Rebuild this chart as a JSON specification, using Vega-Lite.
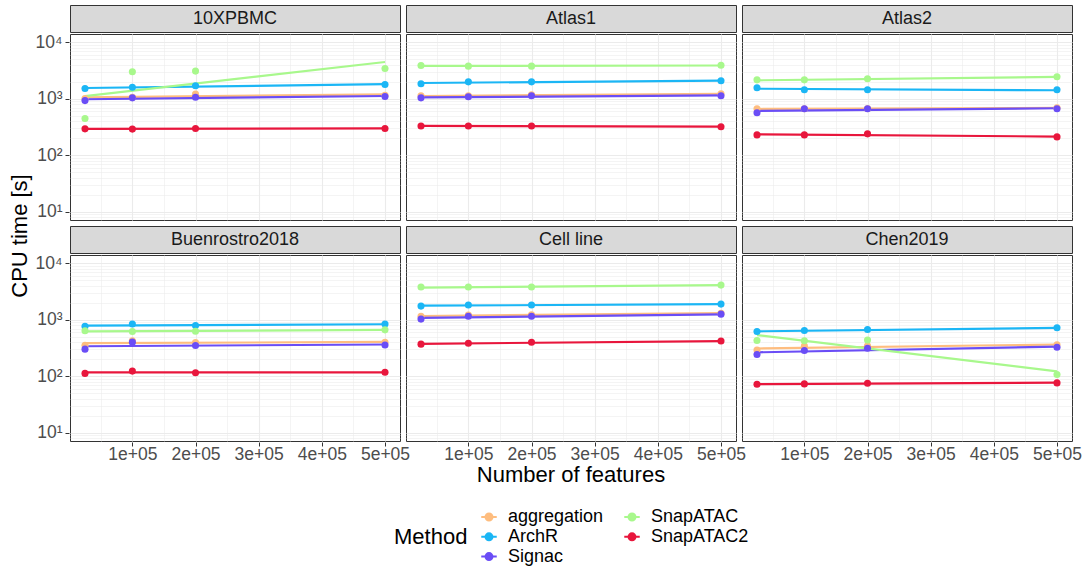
{
  "$schema": "https://vega.github.io/schema/vega-lite/v6.json",
  "background": "white",
  "padding": {"left": 5, "top": 4, "right": 5, "bottom": 5},
  "data": {"name": "all"},
  "datasets": {
    "all": [
      {"dataset":"10XPBMC","Method":"aggregation","kind":"obs","features":25000,"time":1010},
      {"dataset":"10XPBMC","Method":"aggregation","kind":"obs","features":100000,"time":1070},
      {"dataset":"10XPBMC","Method":"aggregation","kind":"obs","features":200000,"time":1210},
      {"dataset":"10XPBMC","Method":"aggregation","kind":"obs","features":500000,"time":1160},
      {"dataset":"10XPBMC","Method":"ArchR","kind":"obs","features":25000,"time":1520},
      {"dataset":"10XPBMC","Method":"ArchR","kind":"obs","features":100000,"time":1600},
      {"dataset":"10XPBMC","Method":"ArchR","kind":"obs","features":200000,"time":1700},
      {"dataset":"10XPBMC","Method":"ArchR","kind":"obs","features":500000,"time":1800},
      {"dataset":"10XPBMC","Method":"Signac","kind":"obs","features":25000,"time":930},
      {"dataset":"10XPBMC","Method":"Signac","kind":"obs","features":100000,"time":1040},
      {"dataset":"10XPBMC","Method":"Signac","kind":"obs","features":200000,"time":1070},
      {"dataset":"10XPBMC","Method":"Signac","kind":"obs","features":500000,"time":1100},
      {"dataset":"10XPBMC","Method":"SnapATAC","kind":"obs","features":25000,"time":447},
      {"dataset":"10XPBMC","Method":"SnapATAC","kind":"obs","features":100000,"time":3020},
      {"dataset":"10XPBMC","Method":"SnapATAC","kind":"obs","features":200000,"time":3100},
      {"dataset":"10XPBMC","Method":"SnapATAC","kind":"obs","features":500000,"time":3460},
      {"dataset":"10XPBMC","Method":"SnapATAC2","kind":"obs","features":25000,"time":293},
      {"dataset":"10XPBMC","Method":"SnapATAC2","kind":"obs","features":100000,"time":290},
      {"dataset":"10XPBMC","Method":"SnapATAC2","kind":"obs","features":200000,"time":297},
      {"dataset":"10XPBMC","Method":"SnapATAC2","kind":"obs","features":500000,"time":297},

      {"dataset":"Atlas1","Method":"aggregation","kind":"obs","features":25000,"time":1130},
      {"dataset":"Atlas1","Method":"aggregation","kind":"obs","features":100000,"time":1130},
      {"dataset":"Atlas1","Method":"aggregation","kind":"obs","features":200000,"time":1180},
      {"dataset":"Atlas1","Method":"aggregation","kind":"obs","features":500000,"time":1230},
      {"dataset":"Atlas1","Method":"ArchR","kind":"obs","features":25000,"time":1850},
      {"dataset":"Atlas1","Method":"ArchR","kind":"obs","features":100000,"time":2000},
      {"dataset":"Atlas1","Method":"ArchR","kind":"obs","features":200000,"time":2000},
      {"dataset":"Atlas1","Method":"ArchR","kind":"obs","features":500000,"time":2090},
      {"dataset":"Atlas1","Method":"Signac","kind":"obs","features":25000,"time":1040},
      {"dataset":"Atlas1","Method":"Signac","kind":"obs","features":100000,"time":1085},
      {"dataset":"Atlas1","Method":"Signac","kind":"obs","features":200000,"time":1130},
      {"dataset":"Atlas1","Method":"Signac","kind":"obs","features":500000,"time":1130},
      {"dataset":"Atlas1","Method":"SnapATAC","kind":"obs","features":25000,"time":3900},
      {"dataset":"Atlas1","Method":"SnapATAC","kind":"obs","features":100000,"time":3800},
      {"dataset":"Atlas1","Method":"SnapATAC","kind":"obs","features":200000,"time":3800},
      {"dataset":"Atlas1","Method":"SnapATAC","kind":"obs","features":500000,"time":3950},
      {"dataset":"Atlas1","Method":"SnapATAC2","kind":"obs","features":25000,"time":330},
      {"dataset":"Atlas1","Method":"SnapATAC2","kind":"obs","features":100000,"time":330},
      {"dataset":"Atlas1","Method":"SnapATAC2","kind":"obs","features":200000,"time":330},
      {"dataset":"Atlas1","Method":"SnapATAC2","kind":"obs","features":500000,"time":320},

      {"dataset":"Atlas2","Method":"aggregation","kind":"obs","features":25000,"time":665},
      {"dataset":"Atlas2","Method":"aggregation","kind":"obs","features":100000,"time":665},
      {"dataset":"Atlas2","Method":"aggregation","kind":"obs","features":200000,"time":670},
      {"dataset":"Atlas2","Method":"aggregation","kind":"obs","features":500000,"time":690},
      {"dataset":"Atlas2","Method":"ArchR","kind":"obs","features":25000,"time":1570},
      {"dataset":"Atlas2","Method":"ArchR","kind":"obs","features":100000,"time":1445},
      {"dataset":"Atlas2","Method":"ArchR","kind":"obs","features":200000,"time":1445},
      {"dataset":"Atlas2","Method":"ArchR","kind":"obs","features":500000,"time":1445},
      {"dataset":"Atlas2","Method":"Signac","kind":"obs","features":25000,"time":565},
      {"dataset":"Atlas2","Method":"Signac","kind":"obs","features":100000,"time":665},
      {"dataset":"Atlas2","Method":"Signac","kind":"obs","features":200000,"time":665},
      {"dataset":"Atlas2","Method":"Signac","kind":"obs","features":500000,"time":665},
      {"dataset":"Atlas2","Method":"SnapATAC","kind":"obs","features":25000,"time":2170},
      {"dataset":"Atlas2","Method":"SnapATAC","kind":"obs","features":100000,"time":2170},
      {"dataset":"Atlas2","Method":"SnapATAC","kind":"obs","features":200000,"time":2270},
      {"dataset":"Atlas2","Method":"SnapATAC","kind":"obs","features":500000,"time":2460},
      {"dataset":"Atlas2","Method":"SnapATAC2","kind":"obs","features":25000,"time":229},
      {"dataset":"Atlas2","Method":"SnapATAC2","kind":"obs","features":100000,"time":229},
      {"dataset":"Atlas2","Method":"SnapATAC2","kind":"obs","features":200000,"time":239},
      {"dataset":"Atlas2","Method":"SnapATAC2","kind":"obs","features":500000,"time":211},

      {"dataset":"Buenrostro2018","Method":"aggregation","kind":"obs","features":25000,"time":355},
      {"dataset":"Buenrostro2018","Method":"aggregation","kind":"obs","features":100000,"time":424},
      {"dataset":"Buenrostro2018","Method":"aggregation","kind":"obs","features":200000,"time":396},
      {"dataset":"Buenrostro2018","Method":"aggregation","kind":"obs","features":500000,"time":400},
      {"dataset":"Buenrostro2018","Method":"ArchR","kind":"obs","features":25000,"time":764},
      {"dataset":"Buenrostro2018","Method":"ArchR","kind":"obs","features":100000,"time":840},
      {"dataset":"Buenrostro2018","Method":"ArchR","kind":"obs","features":200000,"time":795},
      {"dataset":"Buenrostro2018","Method":"ArchR","kind":"obs","features":500000,"time":840},
      {"dataset":"Buenrostro2018","Method":"Signac","kind":"obs","features":25000,"time":302},
      {"dataset":"Buenrostro2018","Method":"Signac","kind":"obs","features":100000,"time":402},
      {"dataset":"Buenrostro2018","Method":"Signac","kind":"obs","features":200000,"time":351},
      {"dataset":"Buenrostro2018","Method":"Signac","kind":"obs","features":500000,"time":357},
      {"dataset":"Buenrostro2018","Method":"SnapATAC","kind":"obs","features":25000,"time":638},
      {"dataset":"Buenrostro2018","Method":"SnapATAC","kind":"obs","features":100000,"time":622},
      {"dataset":"Buenrostro2018","Method":"SnapATAC","kind":"obs","features":200000,"time":629},
      {"dataset":"Buenrostro2018","Method":"SnapATAC","kind":"obs","features":500000,"time":664},
      {"dataset":"Buenrostro2018","Method":"SnapATAC2","kind":"obs","features":25000,"time":112},
      {"dataset":"Buenrostro2018","Method":"SnapATAC2","kind":"obs","features":100000,"time":123},
      {"dataset":"Buenrostro2018","Method":"SnapATAC2","kind":"obs","features":200000,"time":115},
      {"dataset":"Buenrostro2018","Method":"SnapATAC2","kind":"obs","features":500000,"time":117},

      {"dataset":"Cell line","Method":"aggregation","kind":"obs","features":25000,"time":1160},
      {"dataset":"Cell line","Method":"aggregation","kind":"obs","features":100000,"time":1210},
      {"dataset":"Cell line","Method":"aggregation","kind":"obs","features":200000,"time":1230},
      {"dataset":"Cell line","Method":"aggregation","kind":"obs","features":500000,"time":1310},
      {"dataset":"Cell line","Method":"ArchR","kind":"obs","features":25000,"time":1750},
      {"dataset":"Cell line","Method":"ArchR","kind":"obs","features":100000,"time":1830},
      {"dataset":"Cell line","Method":"ArchR","kind":"obs","features":200000,"time":1830},
      {"dataset":"Cell line","Method":"ArchR","kind":"obs","features":500000,"time":1900},
      {"dataset":"Cell line","Method":"Signac","kind":"obs","features":25000,"time":1030},
      {"dataset":"Cell line","Method":"Signac","kind":"obs","features":100000,"time":1160},
      {"dataset":"Cell line","Method":"Signac","kind":"obs","features":200000,"time":1160},
      {"dataset":"Cell line","Method":"Signac","kind":"obs","features":500000,"time":1260},
      {"dataset":"Cell line","Method":"SnapATAC","kind":"obs","features":25000,"time":3810},
      {"dataset":"Cell line","Method":"SnapATAC","kind":"obs","features":100000,"time":3810},
      {"dataset":"Cell line","Method":"SnapATAC","kind":"obs","features":200000,"time":3810},
      {"dataset":"Cell line","Method":"SnapATAC","kind":"obs","features":500000,"time":4130},
      {"dataset":"Cell line","Method":"SnapATAC2","kind":"obs","features":25000,"time":370},
      {"dataset":"Cell line","Method":"SnapATAC2","kind":"obs","features":100000,"time":385},
      {"dataset":"Cell line","Method":"SnapATAC2","kind":"obs","features":200000,"time":400},
      {"dataset":"Cell line","Method":"SnapATAC2","kind":"obs","features":500000,"time":420},

      {"dataset":"Chen2019","Method":"aggregation","kind":"obs","features":25000,"time":290},
      {"dataset":"Chen2019","Method":"aggregation","kind":"obs","features":100000,"time":341},
      {"dataset":"Chen2019","Method":"aggregation","kind":"obs","features":200000,"time":345},
      {"dataset":"Chen2019","Method":"aggregation","kind":"obs","features":500000,"time":360},
      {"dataset":"Chen2019","Method":"ArchR","kind":"obs","features":25000,"time":622},
      {"dataset":"Chen2019","Method":"ArchR","kind":"obs","features":100000,"time":646},
      {"dataset":"Chen2019","Method":"ArchR","kind":"obs","features":200000,"time":675},
      {"dataset":"Chen2019","Method":"ArchR","kind":"obs","features":500000,"time":721},
      {"dataset":"Chen2019","Method":"Signac","kind":"obs","features":25000,"time":243},
      {"dataset":"Chen2019","Method":"Signac","kind":"obs","features":100000,"time":286},
      {"dataset":"Chen2019","Method":"Signac","kind":"obs","features":200000,"time":314},
      {"dataset":"Chen2019","Method":"Signac","kind":"obs","features":500000,"time":327},
      {"dataset":"Chen2019","Method":"SnapATAC","kind":"obs","features":25000,"time":430},
      {"dataset":"Chen2019","Method":"SnapATAC","kind":"obs","features":100000,"time":424},
      {"dataset":"Chen2019","Method":"SnapATAC","kind":"obs","features":200000,"time":437},
      {"dataset":"Chen2019","Method":"SnapATAC","kind":"obs","features":500000,"time":107},
      {"dataset":"Chen2019","Method":"SnapATAC2","kind":"obs","features":25000,"time":72},
      {"dataset":"Chen2019","Method":"SnapATAC2","kind":"obs","features":100000,"time":73},
      {"dataset":"Chen2019","Method":"SnapATAC2","kind":"obs","features":200000,"time":75},
      {"dataset":"Chen2019","Method":"SnapATAC2","kind":"obs","features":500000,"time":76},

      {"dataset":"10XPBMC","Method":"aggregation","kind":"fit","features":25000,"time":1060},
      {"dataset":"10XPBMC","Method":"aggregation","kind":"fit","features":500000,"time":1197},
      {"dataset":"10XPBMC","Method":"ArchR","kind":"fit","features":25000,"time":1555},
      {"dataset":"10XPBMC","Method":"ArchR","kind":"fit","features":500000,"time":1820},
      {"dataset":"10XPBMC","Method":"Signac","kind":"fit","features":25000,"time":982},
      {"dataset":"10XPBMC","Method":"Signac","kind":"fit","features":500000,"time":1122},
      {"dataset":"10XPBMC","Method":"SnapATAC","kind":"fit","features":25000,"time":1120},
      {"dataset":"10XPBMC","Method":"SnapATAC","kind":"fit","features":500000,"time":4500},
      {"dataset":"10XPBMC","Method":"SnapATAC2","kind":"fit","features":25000,"time":292},
      {"dataset":"10XPBMC","Method":"SnapATAC2","kind":"fit","features":500000,"time":298},

      {"dataset":"Atlas1","Method":"aggregation","kind":"fit","features":25000,"time":1120},
      {"dataset":"Atlas1","Method":"aggregation","kind":"fit","features":500000,"time":1230},
      {"dataset":"Atlas1","Method":"ArchR","kind":"fit","features":25000,"time":1910},
      {"dataset":"Atlas1","Method":"ArchR","kind":"fit","features":500000,"time":2107},
      {"dataset":"Atlas1","Method":"Signac","kind":"fit","features":25000,"time":1060},
      {"dataset":"Atlas1","Method":"Signac","kind":"fit","features":500000,"time":1150},
      {"dataset":"Atlas1","Method":"SnapATAC","kind":"fit","features":25000,"time":3830},
      {"dataset":"Atlas1","Method":"SnapATAC","kind":"fit","features":500000,"time":3900},
      {"dataset":"Atlas1","Method":"SnapATAC2","kind":"fit","features":25000,"time":332},
      {"dataset":"Atlas1","Method":"SnapATAC2","kind":"fit","features":500000,"time":322},

      {"dataset":"Atlas2","Method":"aggregation","kind":"fit","features":25000,"time":660},
      {"dataset":"Atlas2","Method":"aggregation","kind":"fit","features":500000,"time":690},
      {"dataset":"Atlas2","Method":"ArchR","kind":"fit","features":25000,"time":1510},
      {"dataset":"Atlas2","Method":"ArchR","kind":"fit","features":500000,"time":1420},
      {"dataset":"Atlas2","Method":"Signac","kind":"fit","features":25000,"time":610},
      {"dataset":"Atlas2","Method":"Signac","kind":"fit","features":500000,"time":680},
      {"dataset":"Atlas2","Method":"SnapATAC","kind":"fit","features":25000,"time":2130},
      {"dataset":"Atlas2","Method":"SnapATAC","kind":"fit","features":500000,"time":2450},
      {"dataset":"Atlas2","Method":"SnapATAC2","kind":"fit","features":25000,"time":234},
      {"dataset":"Atlas2","Method":"SnapATAC2","kind":"fit","features":500000,"time":214},

      {"dataset":"Buenrostro2018","Method":"aggregation","kind":"fit","features":25000,"time":385},
      {"dataset":"Buenrostro2018","Method":"aggregation","kind":"fit","features":500000,"time":405},
      {"dataset":"Buenrostro2018","Method":"ArchR","kind":"fit","features":25000,"time":790},
      {"dataset":"Buenrostro2018","Method":"ArchR","kind":"fit","features":500000,"time":835},
      {"dataset":"Buenrostro2018","Method":"Signac","kind":"fit","features":25000,"time":340},
      {"dataset":"Buenrostro2018","Method":"Signac","kind":"fit","features":500000,"time":365},
      {"dataset":"Buenrostro2018","Method":"SnapATAC","kind":"fit","features":25000,"time":622},
      {"dataset":"Buenrostro2018","Method":"SnapATAC","kind":"fit","features":500000,"time":662},
      {"dataset":"Buenrostro2018","Method":"SnapATAC2","kind":"fit","features":25000,"time":117},
      {"dataset":"Buenrostro2018","Method":"SnapATAC2","kind":"fit","features":500000,"time":117},

      {"dataset":"Cell line","Method":"aggregation","kind":"fit","features":25000,"time":1170},
      {"dataset":"Cell line","Method":"aggregation","kind":"fit","features":500000,"time":1310},
      {"dataset":"Cell line","Method":"ArchR","kind":"fit","features":25000,"time":1780},
      {"dataset":"Cell line","Method":"ArchR","kind":"fit","features":500000,"time":1900},
      {"dataset":"Cell line","Method":"Signac","kind":"fit","features":25000,"time":1080},
      {"dataset":"Cell line","Method":"Signac","kind":"fit","features":500000,"time":1250},
      {"dataset":"Cell line","Method":"SnapATAC","kind":"fit","features":25000,"time":3720},
      {"dataset":"Cell line","Method":"SnapATAC","kind":"fit","features":500000,"time":4130},
      {"dataset":"Cell line","Method":"SnapATAC2","kind":"fit","features":25000,"time":375},
      {"dataset":"Cell line","Method":"SnapATAC2","kind":"fit","features":500000,"time":420},

      {"dataset":"Chen2019","Method":"aggregation","kind":"fit","features":25000,"time":310},
      {"dataset":"Chen2019","Method":"aggregation","kind":"fit","features":500000,"time":365},
      {"dataset":"Chen2019","Method":"ArchR","kind":"fit","features":25000,"time":625},
      {"dataset":"Chen2019","Method":"ArchR","kind":"fit","features":500000,"time":720},
      {"dataset":"Chen2019","Method":"Signac","kind":"fit","features":25000,"time":265},
      {"dataset":"Chen2019","Method":"Signac","kind":"fit","features":500000,"time":335},
      {"dataset":"Chen2019","Method":"SnapATAC","kind":"fit","features":25000,"time":535},
      {"dataset":"Chen2019","Method":"SnapATAC","kind":"fit","features":500000,"time":122},
      {"dataset":"Chen2019","Method":"SnapATAC2","kind":"fit","features":25000,"time":72},
      {"dataset":"Chen2019","Method":"SnapATAC2","kind":"fit","features":500000,"time":77}
    ]
  },
  "hconcat": [
    {
      "data": {"values": [{"axisTitle": "CPU time [s]"}]},
      "width": 30, "height": 462,
      "view": {"stroke": null},
      "mark": {"type": "text", "angle": 270, "fontSize": 22, "color": "#000000", "font": "Liberation Sans", "baseline": "middle", "align": "center"},
      "encoding": {"text": {"field": "axisTitle", "type": "nominal"}}
    },
    {
      "vconcat": [
        {
          "vconcat": [
            {
              "transform": [
                {"filter": {"field": "dataset", "oneOf": ["10XPBMC", "Atlas1", "Atlas2"]}},
                {"aggregate": [{"op": "count", "as": "n"}], "groupby": ["dataset"]}
              ],
              "facet": {"column": {"field": "dataset", "type": "nominal", "sort": ["10XPBMC", "Atlas1", "Atlas2"], "header": null}},
              "spacing": 4,
              "spec": {
                "width": 330, "height": 27,
                "view": {"fill": "#D9D9D9", "stroke": "#333333", "strokeWidth": 1},
                "mark": {"type": "text", "fontSize": 18, "color": "#1A1A1A", "font": "Liberation Sans"},
                "encoding": {"text": {"field": "dataset", "type": "nominal"}}
              }
            },
            {
              "transform": [{"filter": {"field": "dataset", "oneOf": ["10XPBMC", "Atlas1", "Atlas2"]}}],
              "facet": {"column": {"field": "dataset", "type": "nominal", "sort": ["10XPBMC", "Atlas1", "Atlas2"], "header": null}},
              "spacing": 4,
              "spec": {
                "width": 330, "height": 186,
                "encoding": {
                  "x": {"field": "features", "type": "quantitative",
                    "scale": {"domain": [1250, 523750], "nice": false, "zero": false},
                    "axis": {"title": null, "labels": false, "ticks": false, "domain": false, "tickSize": 0, "labelPadding": 0, "minExtent": 0, "maxExtent": 0,
                      "values": [50000, 100000, 150000, 200000, 250000, 300000, 350000, 400000, 450000, 500000],
                      "gridColor": "#EBEBEB",
                      "gridWidth": {"condition": {"test": "datum.value % 100000 == 0", "value": 1.1}, "value": 0.55}}},
                  "y": {"field": "time", "type": "quantitative",
                    "scale": {"type": "log", "domain": [7.0795, 14125], "nice": false},
                    "axis": {"title": null,
                      "domain": false, "labelOverlap": false, "labelFontSize": 17.5, "labelColor": "#4D4D4D", "labelFont": "Liberation Sans",
                      "tickColor": "#333333", "tickSize": 4,
                      "tickOpacity": {"condition": {"test": "indexof([10,100,1000,10000], datum.value) >= 0", "value": 1}, "value": 0},
                      "values": [8,9,10,20,30,40,50,60,70,80,90,100,200,300,400,500,600,700,800,900,1000,2000,3000,4000,5000,6000,7000,8000,9000,10000],
                      "labelExpr": "datum.value == 10 ? '10¹' : datum.value == 100 ? '10²' : datum.value == 1000 ? '10³' : datum.value == 10000 ? '10⁴' : ''",
                      "gridColor": "#EBEBEB",
                      "gridWidth": {"condition": {"test": "indexof([10,100,1000,10000], datum.value) >= 0", "value": 1.1}, "value": 0.55}}},
                  "color": {"field": "Method", "type": "nominal",
                    "scale": {"domain": ["aggregation", "ArchR", "Signac", "SnapATAC", "SnapATAC2"], "range": ["#FEBD7F", "#1BB6F5", "#6A4DF6", "#A8F88C", "#E8163C"]},
                    "legend": {"title": "Method", "orient": "none", "legendX": 389, "legendY": 503}}
                },
                "layer": [
                  {"transform": [{"filter": "datum.kind == 'fit'"}], "mark": {"type": "line", "strokeWidth": 2.2, "clip": true}},
                  {"transform": [{"filter": "datum.kind == 'obs'"}], "mark": {"type": "point", "filled": true, "size": 50, "opacity": 1}}
                ]
              }
            }
          ],
          "spacing": 0
        },
        {
          "vconcat": [
            {
              "transform": [
                {"filter": {"field": "dataset", "oneOf": ["Buenrostro2018", "Cell line", "Chen2019"]}},
                {"aggregate": [{"op": "count", "as": "n"}], "groupby": ["dataset"]}
              ],
              "facet": {"column": {"field": "dataset", "type": "nominal", "sort": ["Buenrostro2018", "Cell line", "Chen2019"], "header": null}},
              "spacing": 4,
              "spec": {
                "width": 330, "height": 27,
                "view": {"fill": "#D9D9D9", "stroke": "#333333", "strokeWidth": 1},
                "mark": {"type": "text", "fontSize": 18, "color": "#1A1A1A", "font": "Liberation Sans"},
                "encoding": {"text": {"field": "dataset", "type": "nominal"}}
              }
            },
            {
              "transform": [{"filter": {"field": "dataset", "oneOf": ["Buenrostro2018", "Cell line", "Chen2019"]}}],
              "facet": {"column": {"field": "dataset", "type": "nominal", "sort": ["Buenrostro2018", "Cell line", "Chen2019"],
                "title": "Number of features",
                "header": {"labels": false, "titleOrient": "bottom", "titleFontSize": 22, "titleFontWeight": "normal", "titleColor": "#000000", "titleFont": "Liberation Sans", "titlePadding": -8}}},
              "spacing": 4,
              "spec": {
                "width": 330, "height": 186,
                "encoding": {
                  "x": {"field": "features", "type": "quantitative",
                    "scale": {"domain": [1250, 523750], "nice": false, "zero": false},
                    "axis": {"title": null,
                      "domain": false, "labelOverlap": false, "labelFontSize": 17.5, "labelColor": "#4D4D4D", "labelFont": "Liberation Sans",
                      "tickColor": "#333333", "tickSize": 4, "labelPadding": -1,
                      "values": [50000, 100000, 150000, 200000, 250000, 300000, 350000, 400000, 450000, 500000],
                      "tickOpacity": {"condition": {"test": "datum.value % 100000 == 0", "value": 1}, "value": 0},
                      "labelExpr": "datum.value % 100000 == 0 ? (datum.value / 100000) + 'e+05' : ''",
                      "gridColor": "#EBEBEB",
                      "gridWidth": {"condition": {"test": "datum.value % 100000 == 0", "value": 1.1}, "value": 0.55}}},
                  "y": {"field": "time", "type": "quantitative",
                    "scale": {"type": "log", "domain": [7.0795, 14125], "nice": false},
                    "axis": {"title": null,
                      "domain": false, "labelOverlap": false, "labelFontSize": 17.5, "labelColor": "#4D4D4D", "labelFont": "Liberation Sans",
                      "tickColor": "#333333", "tickSize": 4,
                      "tickOpacity": {"condition": {"test": "indexof([10,100,1000,10000], datum.value) >= 0", "value": 1}, "value": 0},
                      "values": [8,9,10,20,30,40,50,60,70,80,90,100,200,300,400,500,600,700,800,900,1000,2000,3000,4000,5000,6000,7000,8000,9000,10000],
                      "labelExpr": "datum.value == 10 ? '10¹' : datum.value == 100 ? '10²' : datum.value == 1000 ? '10³' : datum.value == 10000 ? '10⁴' : ''",
                      "gridColor": "#EBEBEB",
                      "gridWidth": {"condition": {"test": "indexof([10,100,1000,10000], datum.value) >= 0", "value": 1.1}, "value": 0.55}}},
                  "color": {"field": "Method", "type": "nominal",
                    "scale": {"domain": ["aggregation", "ArchR", "Signac", "SnapATAC", "SnapATAC2"], "range": ["#FEBD7F", "#1BB6F5", "#6A4DF6", "#A8F88C", "#E8163C"]},
                    "legend": {"title": "Method", "orient": "none", "legendX": 389, "legendY": 503}}
                },
                "layer": [
                  {"transform": [{"filter": "datum.kind == 'fit'"}], "mark": {"type": "line", "strokeWidth": 2.2, "clip": true}},
                  {"transform": [{"filter": "datum.kind == 'obs'"}], "mark": {"type": "point", "filled": true, "size": 50, "opacity": 1}}
                ]
              }
            }
          ],
          "spacing": 0
        }
      ],
      "spacing": -2
    }
  ],
  "spacing": 0,
  "resolve": {"scale": {"color": "shared"}},
  "config": {
    "font": "Liberation Sans",
    "view": {"stroke": "#333333", "strokeWidth": 1},
    "axis": {"labelPadding": 3},
    "legend": {
      "columns": 2,
      "direction": "vertical",
      "titleOrient": "left",
      "titleAnchor": "middle",
      "titleFontSize": 22,
      "titleFontWeight": "normal",
      "titleColor": "#000000",
      "titlePadding": 12,
      "labelFontSize": 18,
      "labelColor": "#000000",
      "labelOffset": 10,
      "columnPadding": 16,
      "rowPadding": 1.8,
      "symbolType": "M-1,0L1,0M0.45,0A0.45,0.45,0,1,1,-0.45,0A0.45,0.45,0,1,1,0.45,0Z",
      "symbolSize": 240,
      "symbolStrokeWidth": 2,
      "symbolOpacity": 1
    }
  }
}
